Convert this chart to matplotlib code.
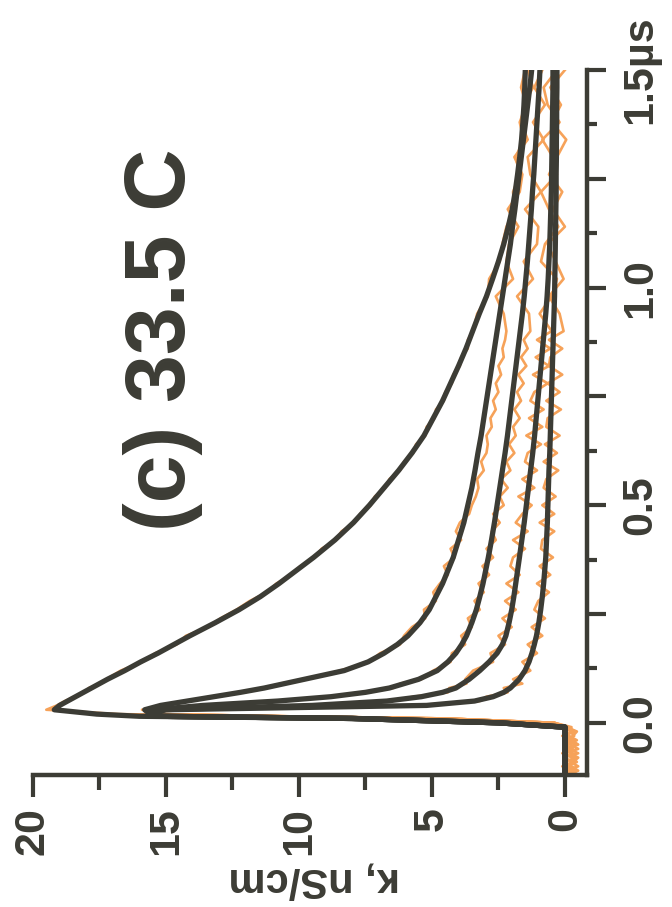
import matplotlib
matplotlib.use("Agg")
import matplotlib.pyplot as plt
from matplotlib.ticker import MultipleLocator, FixedLocator

DARK = "#3c3c35"
ORANGE = "#f6a259"

# time (µs) for the fitted curves
t_fit = [-0.12, -0.11, -0.10, -0.09, -0.08, -0.07, -0.06, -0.05, -0.04, -0.03, -0.02, -0.01,
         0.0, 0.01, 0.015, 0.02,
         0.03, 0.04, 0.05, 0.06, 0.07, 0.08,
         0.10, 0.12, 0.14, 0.16, 0.18, 0.20,
         0.23, 0.26, 0.29, 0.32, 0.35, 0.38,
         0.42, 0.46, 0.50, 0.54, 0.58, 0.62, 0.66, 0.70, 0.74, 0.78, 0.82, 0.86,
         0.90, 0.94, 0.98, 1.02, 1.06, 1.10, 1.14, 1.18, 1.22, 1.26, 1.30, 1.34,
         1.38, 1.42, 1.46, 1.50]

# fitted curves, kappa in nS/cm
fit_a = [0.0] * 12 + [2.5, 8.0, 16.0, 17.6,
         19.2, 19.0, 18.7, 18.4, 18.1, 17.8, 17.2, 16.55, 15.95, 15.3, 14.7, 14.1,
         13.15, 12.25, 11.45, 10.75, 10.1, 9.45, 8.65, 7.95, 7.35, 6.8, 6.25, 5.75,
         5.3, 4.95, 4.6, 4.3, 4.0, 3.72, 3.47, 3.22, 2.95, 2.72, 2.5, 2.3,
         2.13, 1.98, 1.87, 1.78, 1.70, 1.63, 1.58, 1.54, 1.51, 1.49]
fit_b = [0.0] * 12 + [2.5, 8.0, 15.2, 15.6,
         15.8, 15.2, 14.2, 13.2, 12.2, 11.3, 9.8, 8.3, 7.4, 6.8, 6.3, 5.9,
         5.45, 5.1, 4.85, 4.6, 4.4, 4.2, 4.0, 3.8, 3.65, 3.5, 3.38, 3.27,
         3.15, 3.05, 2.95, 2.85, 2.75, 2.65, 2.55, 2.45, 2.35, 2.25, 2.15, 2.05,
         1.97, 1.88, 1.80, 1.72, 1.64, 1.56, 1.48, 1.40, 1.32, 1.25]
fit_c = [0.0] * 12 + [2.5, 8.0, 15.2, 15.6,
         15.5, 13.6, 10.8, 8.8, 7.5, 6.6, 5.5, 4.8, 4.4, 4.1, 3.88, 3.7,
         3.5, 3.33, 3.2, 3.08, 2.98, 2.88, 2.76, 2.65, 2.55, 2.45, 2.35, 2.25,
         2.16, 2.08, 2.0, 1.92, 1.84, 1.76, 1.68, 1.60, 1.53, 1.47, 1.41, 1.36,
         1.31, 1.26, 1.22, 1.17, 1.13, 1.09, 1.05, 1.01, 0.97, 0.94]
fit_d = [0.0] * 12 + [2.5, 8.0, 15.2, 15.6,
         15.3, 9.5, 6.7, 5.4, 4.6, 4.1, 3.6, 3.2, 2.85, 2.55, 2.35, 2.22,
         2.1, 2.0, 1.92, 1.85, 1.78, 1.71, 1.62, 1.53, 1.45, 1.37, 1.29, 1.21,
         1.14, 1.08, 1.02, 0.96, 0.9, 0.84, 0.78, 0.72, 0.67, 0.63, 0.6, 0.57,
         0.55, 0.53, 0.51, 0.5, 0.49, 0.48, 0.47, 0.46, 0.45, 0.45]
fit_e = [0.0] * 12 + [2.5, 8.0, 15.2, 15.6,
         15.0, 5.2, 3.4, 2.7, 2.3, 2.05, 1.72, 1.5, 1.35, 1.24, 1.15, 1.07,
         0.98, 0.91, 0.85, 0.8, 0.76, 0.72, 0.69, 0.66, 0.64, 0.62, 0.6, 0.57,
         0.55, 0.53, 0.51, 0.49, 0.47, 0.45, 0.43, 0.41, 0.39, 0.38, 0.37, 0.36,
         0.35, 0.34, 0.33, 0.33, 0.32, 0.32, 0.31, 0.31, 0.3, 0.3]

# time (µs) for the measured traces
t_data = [-0.12, -0.11, -0.10, -0.09, -0.08, -0.07, -0.06, -0.05, -0.04, -0.03, -0.02, -0.01,
          0.0, 0.01, 0.015, 0.02,
          0.03, 0.04, 0.05, 0.06, 0.07, 0.08, 0.09, 0.10,
          0.12, 0.14, 0.16, 0.18, 0.20, 0.22, 0.24, 0.26, 0.28, 0.30,
          0.32, 0.34, 0.36, 0.38, 0.40, 0.42, 0.44, 0.46, 0.48, 0.50,
          0.52, 0.54, 0.56, 0.58, 0.60, 0.62, 0.64, 0.66, 0.68, 0.70,
          0.72, 0.74, 0.76, 0.78, 0.80, 0.82, 0.84, 0.86, 0.88, 0.90,
          0.94, 0.98, 1.02, 1.06, 1.10, 1.14, 1.18, 1.22, 1.26, 1.30, 1.34, 1.38,
          1.42, 1.46, 1.50]

data_a = [-0.2, -0.45, -0.1, -0.35, 0.05, -0.5, -0.15, -0.4, 0.0, -0.3, -0.45, -0.05,
          0.4, 4.5, 10.5, 16.8,
          19.5, 19.1, 18.8, 18.45, 18.05, 17.9, 17.45, 17.25,
          16.7, 15.9, 15.4, 14.6, 14.25, 13.4, 12.95, 12.35, 11.85, 11.2,
          10.85, 10.3, 9.95, 9.4, 9.15, 8.6, 8.4, 7.9, 7.7, 7.3,
          7.15, 6.75, 6.6, 6.2, 6.05, 5.7, 5.6, 5.25, 5.2, 4.9,
          4.85, 4.55, 4.5, 4.25, 4.2, 3.95, 3.9, 3.65, 3.65, 3.45,
          3.3, 2.9, 2.85, 2.45, 2.35, 2.2, 1.9, 1.95, 1.7, 1.85, 1.55, 1.7,
          1.45, 1.65, 1.5]
data_b = [-0.35, 0.0, -0.5, -0.2, -0.4, 0.1, -0.3, -0.05, -0.45, -0.15, 0.05, -0.25,
          0.4, 4.5, 10.5, 15.2,
          15.9, 15.1, 14.3, 13.1, 12.35, 11.2, 10.7, 9.75,
          8.45, 7.35, 6.95, 6.2, 6.05, 5.75, 5.25, 5.3, 4.85, 4.95,
          4.7, 4.4, 4.55, 4.15, 4.3, 3.9, 4.1, 3.95, 3.6, 3.5,
          3.35, 3.25, 3.3, 3.05, 3.15, 2.95, 2.9, 2.95, 2.75, 2.8,
          2.6, 2.7, 2.5, 2.6, 2.4, 2.5, 2.3, 2.35, 2.25, 2.2,
          2.3, 2.6, 1.95, 2.2, 2.1, 1.75, 2.15, 1.7, 1.6, 1.9, 1.4, 1.65,
          1.55, 1.2, 1.4]
data_c = [0.05, -0.3, -0.1, -0.45, -0.25, 0.0, -0.5, -0.2, -0.35, 0.1, -0.4, -0.1,
          0.4, 4.5, 10.5, 15.2,
          15.6, 13.4, 11.0, 8.6, 7.7, 6.45, 6.2, 5.4,
          4.95, 4.3, 4.25, 3.75, 3.9, 3.5, 3.65, 3.2, 3.4, 3.05,
          3.25, 2.85, 3.1, 2.7, 2.95, 2.6, 2.75, 2.45, 2.7, 2.3,
          2.45, 2.15, 2.4, 2.05, 2.2, 1.9, 2.1, 1.85, 1.95, 1.7,
          1.9, 1.65, 1.8, 1.55, 1.75, 1.45, 1.65, 1.4, 1.55, 1.3,
          1.35, 1.8, 1.2, 1.55, 1.05, 1.0, 1.5, 0.9, 1.3, 1.4, 0.8, 1.2,
          0.75, 1.15, 0.85]
data_d = [-0.4, -0.15, 0.1, -0.3, -0.5, -0.2, 0.0, -0.45, -0.1, -0.35, -0.2, 0.0,
          0.4, 4.5, 10.5, 15.2,
          15.4, 9.9, 6.5, 5.7, 4.4, 4.35, 3.7, 3.75,
          3.45, 2.7, 2.8, 2.25, 2.5, 2.0, 2.35, 1.85, 2.25, 1.75,
          2.2, 1.7, 2.05, 1.95, 1.5, 1.95, 1.4, 1.85, 1.6, 1.25,
          1.75, 1.15, 1.6, 1.05, 1.5, 1.4, 0.9, 1.45, 0.85, 1.35,
          0.8, 1.3, 1.15, 0.65, 1.2, 0.6, 1.1, 0.55, 1.05, 0.5,
          0.95, 0.5, 0.3, 0.9, 0.75, 0.25, 0.6, 0.9, 0.3, 0.45, 0.85, 0.2,
          0.65, 0.8, 0.3]
data_e = [-0.1, -0.5, -0.25, 0.0, -0.4, -0.3, -0.05, -0.5, -0.25, 0.05, -0.3, -0.15,
          0.4, 4.5, 10.5, 15.2,
          15.1, 5.7, 3.2, 2.95, 2.15, 2.3, 1.6, 1.95,
          1.3, 1.6, 1.05, 1.4, 0.85, 1.25, 0.75, 1.15, 1.0, 0.6,
          1.05, 0.55, 0.95, 0.45, 0.9, 0.85, 0.4, 0.95, 0.4, 0.85,
          0.35, 0.8, 0.7, 0.25, 0.8, 0.3, 0.75, 0.2, 0.7, 0.65,
          0.15, 0.7, 0.2, 0.65, 0.1, 0.6, 0.55, 0.1, 0.6, 0.05,
          0.2, 0.6, 0.05, 0.35, 0.65, 0.0, 0.45, 0.1, 0.6, 0.3, -0.05, 0.5,
          0.15, 0.55, 0.0]

kappa_ticks = [20, 15, 10, 5, 0]
time_ticks = [0.0, 0.5, 1.0, 1.5]
time_labels = ["0.0", "0.5", "1.0", "1.5µs"]


def plot_rotated():
    plt.rcParams['font.family'] = ['Liberation Sans', 'DejaVu Sans']
    plt.rcParams['font.weight'] = 'bold'

    fig = plt.figure(figsize=(6.72, 9.07), dpi=100)
    ax = fig.add_axes([0.0491, 0.1455, 0.8244, 0.7773])

    # chart is turned a quarter turn: kappa runs right-to-left, time runs up
    for d in [data_a, data_b, data_c, data_d, data_e]:
        ax.plot(d, t_data, color=ORANGE, lw=1.9, zorder=2)
    for f in [fit_a, fit_b, fit_c, fit_d, fit_e]:
        ax.plot(f, t_fit, color=DARK, lw=3.8, zorder=3, solid_joinstyle='round')

    ax.set_xlim(20, -0.83)
    ax.set_ylim(-0.12, 1.5)

    for s in ['top', 'left']:
        ax.spines[s].set_visible(False)
    for s in ['bottom', 'right']:
        ax.spines[s].set_linewidth(3.2)
        ax.spines[s].set_color(DARK)

    ax.xaxis.set_major_locator(FixedLocator(kappa_ticks))
    ax.xaxis.set_minor_locator(MultipleLocator(2.5))
    ax.set_xticklabels([str(k) for k in kappa_ticks])
    ax.tick_params(axis='x', which='major', length=16, width=3, color=DARK,
                   labelsize=31, labelcolor=DARK, labelrotation=90, pad=7)
    ax.tick_params(axis='x', which='minor', length=11, width=3, color=DARK)

    ax.yaxis.tick_right()
    ax.yaxis.set_major_locator(MultipleLocator(0.25))
    ax.yaxis.set_minor_locator(MultipleLocator(0.125))
    ax.set_yticklabels([])
    ax.tick_params(axis='y', which='major', length=14, width=3, color=DARK)
    ax.tick_params(axis='y', which='minor', length=7.5, width=3, color=DARK)
    for t, lab in zip(time_ticks, time_labels):
        ax.annotate(lab, xy=(1, t), xycoords=('axes fraction', 'data'),
                    xytext=(38, 0), textcoords='offset points', rotation=90,
                    ha='center', va='center', fontsize=31, color=DARK,
                    fontweight='bold')

    fig.text(314 / 672, 1 - 880 / 907, "κ, nS/cm", rotation=180, ha='center',
             va='center', fontsize=30, color=DARK, fontweight='bold')
    fig.text(163 / 672, 1 - 340 / 907, "(c) 33.5 C", rotation=90, ha='center',
             va='center', fontsize=62, color=DARK, fontweight='bold')

    fig.savefig("out.png", dpi=100)


if __name__ == "__main__":
    plot_rotated()
